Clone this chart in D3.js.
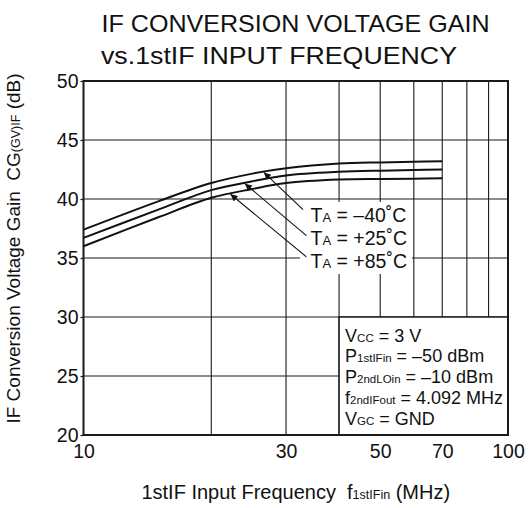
<!DOCTYPE html>
<html>
<head>
<meta charset="utf-8">
<script src="https://cdn.jsdelivr.net/npm/d3@7"></script>
<style>
  html, body { margin: 0; padding: 0; background: #fff; }
  svg { display: block; }
  text { font-family: "Liberation Sans", Arial, Helvetica, sans-serif; fill: #111; white-space: pre; }
</style>
</head>
<body>
<svg id="chart" width="529" height="508"></svg>
<script>
// ---- data ----
const freqs   = [10, 15, 20, 25, 30, 40, 50, 60, 70];
const gainM40 = [37.4, 39.8, 41.35, 42.15, 42.6, 43.0, 43.1, 43.15, 43.2];
const gainP25 = [36.7, 39.1, 40.75, 41.5, 42.0, 42.3, 42.4, 42.45, 42.5];
const gainP85 = [36.0, 38.45, 40.1, 40.85, 41.35, 41.65, 41.7, 41.72, 41.75];
const seriesLabels = ["\u201340\u02DAC", "+25\u02DAC", "+85\u02DAC"];
const xTickValues = [10, 20, 30, 40, 50, 60, 70, 80, 90, 100];
const xTickLabels = [10, 30, 50, 70, 100];
const yTickValues = [20, 25, 30, 35, 40, 45, 50];
// arrow heads (on curves) and tails, in data units [MHz, dB]
const arrowHeads = [[26.6, 42.25], [24.0, 41.3], [22.2, 40.4]];
const arrowTails = [[32.9, 39.1], [33.5, 36.9], [33.5, 35.1]];
const conditions = [
  ["V", "CC", " = 3 V"],
  ["P", "1stIFin", " = \u201350 dBm"],
  ["P", "2ndLOin", " = \u201310 dBm"],
  ["f", "2ndIFout", " = 4.092 MHz"],
  ["V", "GC", " = GND"]
];

// ---- layout ----
const svg = d3.select("#chart");
const L = 83.5, R = 508, T = 81, B = 435;
const x = d3.scaleLog().domain([10, 100]).range([L, R]);
const y = d3.scaleLinear().domain([20, 50]).range([B, T]);

// title
svg.append("text").attr("x", 101.5).attr("y", 31.5).attr("font-size", 24)
  .attr("textLength", 388).attr("lengthAdjust", "spacingAndGlyphs")
  .text("IF CONVERSION VOLTAGE GAIN");
svg.append("text").attr("x", 101).attr("y", 63.5).attr("font-size", 24)
  .attr("textLength", 356).attr("lengthAdjust", "spacingAndGlyphs")
  .text("vs.1stIF INPUT FREQUENCY");

// grid
const grid = svg.append("g").attr("stroke", "#1a1a1a").attr("stroke-width", 1.1);
grid.selectAll("line.v").data(xTickValues.slice(1, -1)).join("line")
  .attr("x1", d => x(d)).attr("x2", d => x(d)).attr("y1", T).attr("y2", B);
grid.selectAll("line.h").data(yTickValues.slice(1, -1)).join("line")
  .attr("x1", L).attr("x2", R).attr("y1", d => y(d)).attr("y2", d => y(d));

// y axis ticks & labels
const yAxis = d3.axisLeft(y).tickValues(yTickValues).tickSize(3).tickPadding(2);
const gy = svg.append("g").attr("transform", `translate(${L},0)`).call(yAxis);
gy.select(".domain").remove();
gy.selectAll(".tick line").attr("stroke", "#1a1a1a").attr("stroke-width", 1.2);
gy.selectAll(".tick text").attr("font-size", 19.5).attr("fill", "#111")
  .attr("font-family", "Liberation Sans, Arial, sans-serif");

// x axis labels
const xAxis = d3.axisBottom(x).tickValues(xTickLabels).tickFormat(d3.format("d")).tickSize(0).tickPadding(9);
const gx = svg.append("g").attr("transform", `translate(0,${B})`).call(xAxis);
gx.select(".domain").remove();
gx.selectAll(".tick text").attr("font-size", 19.5).attr("fill", "#111")
  .attr("font-family", "Liberation Sans, Arial, sans-serif");

// conditions box (covers grid cells from 40 MHz, below 30 dB)
svg.append("rect").attr("x", x(40)).attr("y", y(30))
  .attr("width", R - x(40)).attr("height", B - y(30))
  .attr("fill", "#fff").attr("stroke", "#1a1a1a").attr("stroke-width", 1.5);
const condG = svg.append("g");
conditions.forEach((c, i) => {
  const t = condG.append("text").attr("x", x(40) + 6).attr("y", y(30) + 24.5 + i * 20.9)
    .attr("font-size", 18);
  t.append("tspan").text(c[0]);
  t.append("tspan").attr("font-size", 11.5).text(c[1]);
  t.append("tspan").text(c[2]);
});

// curves
const allSeries = [gainM40, gainP25, gainP85];
const line = d3.line().x(d => x(d[0])).y(d => y(d[1])).curve(d3.curveCatmullRom.alpha(0.5));
svg.append("g").selectAll("path").data(allSeries).join("path")
  .attr("d", s => line(freqs.map((f, i) => [f, s[i]])))
  .attr("fill", "none").attr("stroke", "#111").attr("stroke-width", 2);

// legend label background (hides grid behind labels)
svg.append("rect").attr("x", 300).attr("y", 202).attr("width", 112).attr("height", 72)
  .attr("fill", "#fff");

// arrows
const defs = svg.append("defs");
defs.append("marker").attr("id", "ah").attr("viewBox", "0 0 10 10")
  .attr("refX", 10).attr("refY", 5).attr("markerWidth", 11).attr("markerHeight", 7)
  .attr("markerUnits", "userSpaceOnUse").attr("orient", "auto")
  .append("path").attr("d", "M0,0 L10,5 L0,10 z").attr("fill", "#111");
svg.append("g").selectAll("line").data(arrowHeads).join("line")
  .attr("x1", (d, i) => x(arrowTails[i][0])).attr("y1", (d, i) => y(arrowTails[i][1]))
  .attr("x2", d => x(d[0])).attr("y2", d => y(d[1]))
  .attr("stroke", "#111").attr("stroke-width", 1.1).attr("marker-end", "url(#ah)");

// legend labels
seriesLabels.forEach((lab, i) => {
  const t = svg.append("text").attr("x", 310.5).attr("y", 221.7 + i * 23.3).attr("font-size", 19.5);
  t.append("tspan").text("T");
  t.append("tspan").attr("font-size", 13).text("A");
  t.append("tspan").text(" = " + lab);
});

// plot frame
svg.append("rect").attr("x", L).attr("y", T).attr("width", R - L).attr("height", B - T)
  .attr("fill", "none").attr("stroke", "#1a1a1a").attr("stroke-width", 2);

// axis titles
const xt = svg.append("text").attr("x", (L + R) / 2).attr("y", 499)
  .attr("text-anchor", "middle").attr("font-size", 20);
xt.append("tspan").text("1stIF Input Frequency  f");
xt.append("tspan").attr("font-size", 12.5).text("1stIFin");
xt.append("tspan").text(" (MHz)");

const yt = svg.append("text").attr("transform", "translate(20,248.5) rotate(-90)")
  .attr("text-anchor", "middle").attr("font-size", 19);
yt.append("tspan").text("IF Conversion Voltage Gain  CG");
yt.append("tspan").attr("font-size", 12.5).text("(GV)IF");
yt.append("tspan").text(" (dB)");
</script>
</body>
</html>
